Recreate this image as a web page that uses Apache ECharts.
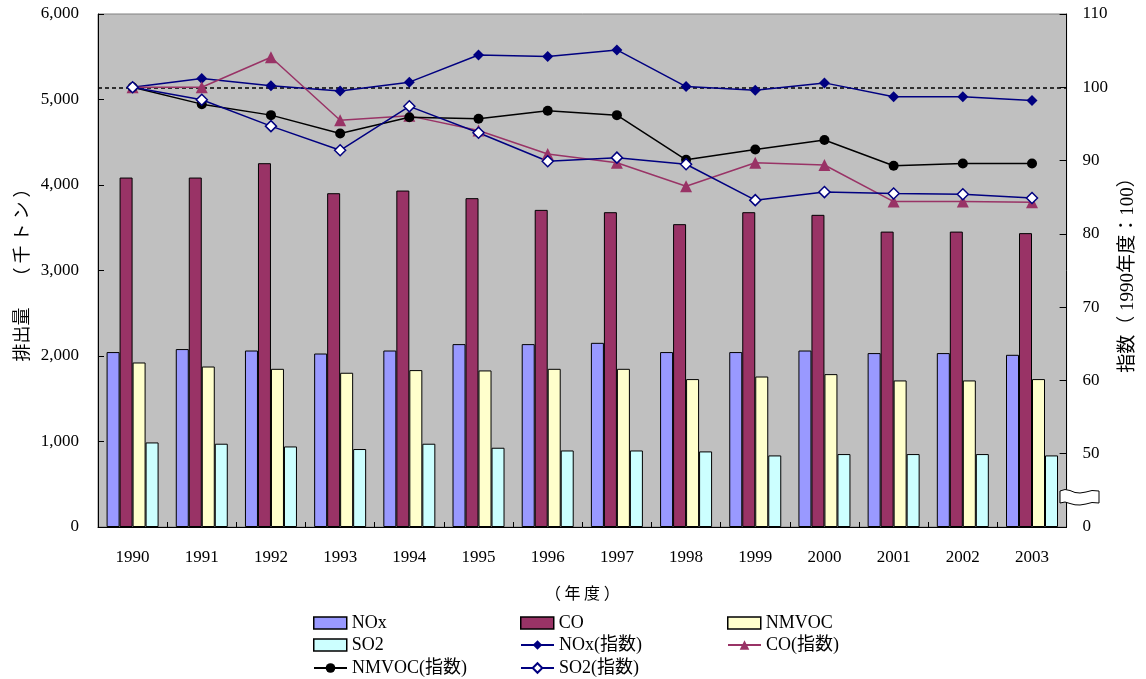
<!DOCTYPE html>
<html>
<head>
<meta charset="utf-8">
<script src="https://cdn.jsdelivr.net/npm/echarts@6/dist/echarts.min.js"></script>
<style>
  html, body { margin: 0; padding: 0; background: #ffffff; }
  #chart { width: 1146px; height: 679px; }
</style>
</head>
<body>
<div id="chart"></div>
<script>
// 年度
const years = ['1990','1991','1992','1993','1994','1995','1996','1997','1998','1999','2000','2001','2002','2003'];

// 排出量（千トン）
const noxEmission   = [2046, 2081, 2064, 2029, 2064, 2139, 2139, 2154, 2046, 2046, 2064, 2034, 2034, 2014];
const coEmission    = [4087, 4087, 4255, 3904, 3935, 3846, 3709, 3682, 3542, 3682, 3651, 3455, 3455, 3437];
const nmvocEmission = [1924, 1877, 1850, 1804, 1835, 1831, 1850, 1850, 1730, 1760, 1788, 1714, 1714, 1730];
const so2Emission   = [ 989,  974,  942,  912,  974,  927,  895,  895,  884,  837,  853,  853,  853,  837];

// 指数（1990年度＝100）
const noxIndex   = [100.0, 101.2, 100.2,  99.5, 100.7, 104.4, 104.2, 105.1, 100.1,  99.6, 100.6,  98.7,  98.7,  98.2];
const coIndex    = [100.0, 100.0, 104.1,  95.5,  96.1,  94.1,  90.9,  89.7,  86.5,  89.7,  89.4,  84.4,  84.4,  84.3];
const nmvocIndex = [100.0,  97.7,  96.2,  93.7,  95.9,  95.7,  96.8,  96.2,  90.1,  91.5,  92.8,  89.3,  89.6,  89.6];
const so2Index   = [100.0,  98.3,  94.7,  91.4,  97.4,  93.8,  89.9,  90.4,  89.5,  84.6,  85.7,  85.5,  85.4,  84.9];

// 基準線
const baseIndex = 100;

const SERIF = "'Liberation Serif', 'Noto Sans CJK JP', serif";
const CJK = "'Noto Sans CJK JP', sans-serif";

const chart = echarts.init(document.getElementById('chart'), null, { renderer: 'canvas' });

function barSeries(name, data, color) {
  return {
    name: name, type: 'bar', yAxisIndex: 0, data: data,
    barWidth: 13, barGap: '0%',
    itemStyle: { color: color, borderColor: '#000000', borderWidth: 1 },
    z: 2
  };
}

function lineSeries(name, data, color, symbol, size, fill, extra) {
  return Object.assign({
    name: name, type: 'line', yAxisIndex: 1, data: data,
    symbol: symbol, symbolSize: size, showSymbol: true,
    lineStyle: { color: color, width: 1.5 },
    itemStyle: { color: fill, borderColor: color, borderWidth: fill === '#ffffff' ? 1.5 : 0 },
    z: 5
  }, extra || {});
}

// 凡例は1項目ずつ配置（3列×3行）
function legendAt(name, left, top, isBar) {
  const legend = {
    data: [isBar ? { name: name, icon: 'rect' } : { name: name }],
    left: left, top: top,
    itemWidth: 33, itemHeight: 12, itemGap: 0, padding: 0,
    textStyle: { fontFamily: SERIF, fontSize: 18, color: '#000000' }
  };
  if (isBar) {
    legend.itemStyle = { borderColor: '#000000', borderWidth: 1.5 };
  }
  return legend;
}

const option = {
  animation: false,
  backgroundColor: '#ffffff',
  grid: {
    left: 98, right: 79, top: 14, bottom: 152,
    show: true, backgroundColor: '#c0c0c0', borderColor: '#808080', borderWidth: 1
  },
  legend: [
    legendAt('NOx', 313, 614, true),
    legendAt('SO2', 313, 636, true),
    legendAt('NMVOC(指数)', 313, 659, false),
    legendAt('CO', 520, 614, true),
    legendAt('NOx(指数)', 520, 636, false),
    legendAt('SO2(指数)', 520, 659, false),
    legendAt('NMVOC', 727, 614, true),
    legendAt('CO(指数)', 727, 636, false)
  ],
  xAxis: {
    type: 'category', data: years,
    name: '（ 年 度 ）', nameLocation: 'middle', nameGap: 58,
    nameTextStyle: { fontFamily: CJK, fontSize: 16, color: '#000000' },
    axisLine: { lineStyle: { color: '#000000', width: 1 } },
    axisTick: { show: true, inside: true, length: 5, lineStyle: { color: '#000000' } },
    axisLabel: { margin: 22, fontFamily: SERIF, fontSize: 17, color: '#000000' },
    splitLine: { show: false }
  },
  yAxis: [
    {
      type: 'value', min: 0, max: 6000, interval: 1000, position: 'left',
      name: '排出量　 （ 千 ト ン ）', nameLocation: 'middle', nameGap: 59, nameRotate: 90,
      nameTextStyle: { fontFamily: CJK, fontSize: 18, color: '#000000' },
      axisLine: { show: true, lineStyle: { color: '#000000', width: 1 } },
      axisTick: { show: true, inside: true, length: 6, lineStyle: { color: '#000000' } },
      axisLabel: {
        margin: 19, fontFamily: SERIF, fontSize: 17, color: '#000000',
        formatter: v => v.toLocaleString('en-US')
      },
      splitLine: { show: false }
    },
    {
      type: 'value', min: 40, max: 110, interval: 10, position: 'right',
      name: '指数（ 1990年度：100）', nameLocation: 'middle', nameGap: 49, nameRotate: 90,
      nameTextStyle: { fontFamily: SERIF, fontSize: 19, color: '#000000' },
      axisLine: { show: true, lineStyle: { color: '#000000', width: 1 } },
      axisTick: { show: true, inside: true, length: 7, lineStyle: { color: '#000000' } },
      axisLabel: {
        margin: 16, fontFamily: SERIF, fontSize: 17, color: '#000000',
        formatter: v => (v === 40 ? '0' : String(v))
      },
      splitLine: { show: false }
    }
  ],
  series: [
    barSeries('NOx', noxEmission, '#9999ff'),
    barSeries('CO', coEmission, '#993366'),
    barSeries('NMVOC', nmvocEmission, '#ffffcc'),
    barSeries('SO2', so2Emission, '#ccffff'),
    lineSeries('NOx(指数)', noxIndex, '#000080', 'diamond', 11, '#000080', {
      markLine: {
        silent: true, symbol: 'none', label: { show: false },
        lineStyle: { color: '#000000', type: [4, 3], width: 1.5 },
        data: [{ yAxis: baseIndex }]
      }
    }),
    lineSeries('CO(指数)', coIndex, '#993366', 'triangle', 12, '#993366'),
    lineSeries('NMVOC(指数)', nmvocIndex, '#000000', 'circle', 10, '#000000'),
    lineSeries('SO2(指数)', so2Index, '#000080', 'diamond', 11, '#ffffff')
  ],
  graphic: [
    {
      // 右軸の省略記号（波形）
      type: 'polygon', x: 1060, y: 489, z: 100,
      shape: {
        points: [
          [0, 2], [5, 0.5], [10, 1.5], [15, 3.5], [20, 4], [26, 3], [32, 1.5], [39, 2],
          [39, 14], [32, 13.5], [26, 15], [20, 16], [15, 15.8], [10, 14.5], [5, 13], [0, 14]
        ]
      },
      style: { fill: '#ffffff', stroke: '#000000', lineWidth: 1 }
    }
  ]
};

chart.setOption(option);
</script>
</body>
</html>
